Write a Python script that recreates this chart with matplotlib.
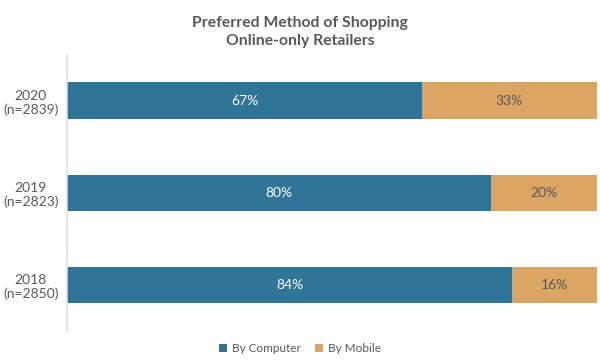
import matplotlib.pyplot as plt

years = ["2018\n(n=2850)", "2019\n(n=2823)", "2020\n(n=2839)"]
computer = [84, 80, 67]
mobile = [16, 20, 33]

plt.rcParams['font.family'] = ['Lato', 'DejaVu Sans']

fig = plt.figure(figsize=(6, 3.61), dpi=100)
ax = fig.add_axes([0.1117, 0.083, 0.883, 0.765])

blue = "#2E7598"
orange = "#DBA664"
txt = "#595959"

pos = range(len(years))
b1 = ax.barh(pos, computer, height=0.4, color=blue, label="By Computer")
b2 = ax.barh(pos, mobile, left=computer, height=0.4, color=orange, label="By Mobile")

for i in pos:
    ax.text(computer[i] / 2, i, f"{computer[i]}%", ha="center", va="center",
            color="white", fontsize=10)
    ax.text(computer[i] + mobile[i] / 2, i, f"{mobile[i]}%", ha="center", va="center",
            color=txt, fontsize=10)

ax.set_xlim(0, 100)
ax.set_ylim(-0.5, 2.5)
ax.set_yticks(list(pos))
ax.set_yticklabels(years, color=txt, fontsize=10)
for lab in ax.get_yticklabels():
    lab.set_horizontalalignment("center")
    lab.set_multialignment("center")
ax.tick_params(axis="y", length=0, pad=26)
ax.set_xticks([])
for s in ["top", "right", "bottom"]:
    ax.spines[s].set_visible(False)
ax.spines["left"].set_color("#E0E0E0")
ax.spines["left"].set_linewidth(1.2)

fig.text(0.5, 0.955, "Preferred Method of Shopping\nOnline-only Retailers", ha="center",
         va="top", fontsize=11.3, fontweight="bold", color=txt, linespacing=1.3)

fig.legend(handles=[b1, b2], loc="center", bbox_to_anchor=(0.5, 0.035), ncol=2,
           frameon=False, fontsize=8.5, labelcolor=txt, handlelength=0.7, handleheight=0.7,
           columnspacing=1.2, handletextpad=0.4)

fig.savefig("out.png", dpi=100)
